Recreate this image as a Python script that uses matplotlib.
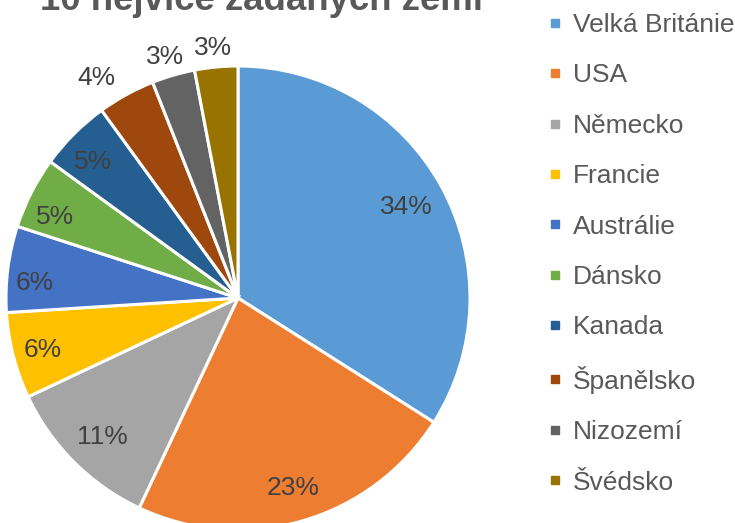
import matplotlib
matplotlib.use("Agg")
import matplotlib.pyplot as plt
from matplotlib.lines import Line2D
import numpy as np

plt.rcParams['font.family'] = ['Liberation Sans', 'DejaVu Sans']

title = "10 nejvíce žádaných zemí"
countries = ["Velká Británie", "USA", "Německo", "Francie", "Austrálie",
             "Dánsko", "Kanada", "Španělsko", "Nizozemí", "Švédsko"]
shares = [34, 23, 11, 6, 6, 5, 5, 4, 3, 3]
colors = ["#5B9BD5", "#ED7D31", "#A5A5A5", "#FFC000", "#4472C4",
          "#70AD47", "#255E91", "#9E480E", "#636363", "#997300"]
# label placement (fraction of radius, angular nudge in degrees)
label_radius = [0.823, 0.853, 0.838, 0.869, 0.878, 0.863, 0.857, 1.126, 1.086, 1.083]
label_nudge = [-0.4, 0.0, 0.6, 0.5, 3.0, 3.1, 1.8, 3.9, 0.7, 0.3]

W, H = 735, 523
fig = plt.figure(figsize=(W / 100, H / 100), dpi=100)
cx, cy, R = 238, 298, 232
ax = fig.add_axes([(cx - R) / W, (H - cy - R) / H, 2 * R / W, 2 * R / H])

wedges, _ = ax.pie(shares, colors=colors, startangle=90, counterclock=False,
                   radius=1, center=(0, 0), frame=True,
                   wedgeprops=dict(edgecolor='white', linewidth=2.2))
ax.set_xlim(-1, 1)
ax.set_ylim(-1, 1)
ax.axis('off')

for w, v, r, d in zip(wedges, shares, label_radius, label_nudge):
    ang = np.deg2rad((w.theta1 + w.theta2) / 2 + d)
    ax.text(r * np.cos(ang), r * np.sin(ang), f"{v}%", ha='center', va='center',
            fontsize=19, color='#404040', clip_on=False)

fig.text(261 / W, (H - 10) / H, title, ha='center', va='baseline',
         fontsize=26.4, fontweight='bold', color='#595959')

handles = [Line2D([], [], marker='s', linestyle='none', markersize=5.5,
                  markerfacecolor=c, markeredgecolor=c) for c in colors]
leg = fig.legend(handles, countries, loc='upper left',
                 bbox_to_anchor=(548 / W, 1 - 13 / H), frameon=False,
                 fontsize=19, labelcolor='#595959', handlelength=0.55,
                 handletextpad=0.4, labelspacing=1.0, borderpad=0,
                 borderaxespad=0)

fig.savefig("out.png", dpi=100)
